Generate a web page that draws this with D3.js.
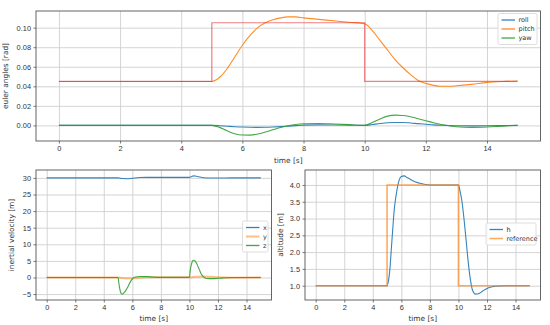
<!DOCTYPE html>
<html>
<head>
<meta charset="utf-8">
<script src="https://cdn.jsdelivr.net/npm/d3@7"></script>
<style>
  body { margin: 0; background: #fff; }
  svg { display: block; font-family: "DejaVu Sans", sans-serif; }
  .axis text { font-size: 7.4px; fill: #333; }
  .axis path { display: none; }
  .axis line { stroke: #555; stroke-width: 0.8; }
  .grid line { stroke: #cfcfcf; stroke-width: 0.9; }
  .grid path { display: none; }
  .axis-title { font-size: 7.4px; fill: #333; }
  .legend text { font-size: 6.5px; fill: #333; }
</style>
</head>
<body>
<script>
// euler angles
var tEuler = [0, 5, 5.25, 5.5, 5.75, 6, 6.25, 6.5, 6.75, 7, 7.25, 7.5, 7.75, 8, 8.5, 9, 9.5, 10,
  10.25, 10.5, 10.75, 11, 11.25, 11.5, 11.75, 12, 12.25, 12.5, 12.75, 13, 13.5, 14, 14.5, 15];
var roll = [0, 0, -0.0003, -0.0008, -0.0013, -0.0017, -0.0019, -0.002, -0.0019, -0.0016, -0.0012, -0.0007, -0.0002,
  0.0003, 0.0006, 0.0005, 0.0003, 0, 0.0009, 0.0019, 0.0027, 0.003, 0.003, 0.0025, 0.0018, 0.0012, 0.0006, 0.0002,
  -0.0001, -0.0004, -0.0005, -0.0004, -0.0002, 0];
var pitch = [0.045, 0.045, 0.049, 0.058, 0.070, 0.082, 0.092, 0.100, 0.105, 0.108, 0.110, 0.111, 0.111, 0.110,
  0.1085, 0.107, 0.1055, 0.104, 0.097, 0.087, 0.077, 0.067, 0.059, 0.052, 0.046, 0.043, 0.041, 0.040, 0.040,
  0.0405, 0.042, 0.044, 0.045, 0.0455];
var yaw = [0, 0, -0.002, -0.0055, -0.0085, -0.0098, -0.0099, -0.0088, -0.0068, -0.0045, -0.0022, -0.0003, 0.001,
  0.0017, 0.002, 0.0015, 0.0008, 0, 0.003, 0.0065, 0.0095, 0.0105, 0.0102, 0.0088, 0.0068, 0.0048, 0.0028, 0.001,
  -0.0004, -0.0013, -0.002, -0.0016, -0.0008, 0];
var tRef = [0, 5, 10, 15];
var pitchRef = [0.045, 0.105, 0.045, 0.045];

// inertial velocity
var tVelX = [0, 5, 5.3, 5.6, 6, 6.5, 7, 8, 9, 10, 10.15, 10.3, 10.5, 10.75, 11, 11.5, 12, 13, 15];
var velX = [30, 30, 29.8, 29.75, 29.9, 30.1, 30.15, 30.15, 30.15, 30.15, 30.45, 30.6, 30.5, 30.25, 30.05, 29.95, 29.95, 30, 30];
var tVelY = [0, 5, 5.5, 6, 6.5, 7, 8, 10, 10.5, 11, 11.5, 12, 13, 15];
var velY = [0, 0, -0.25, -0.3, -0.1, 0.05, 0.05, 0.05, 0.2, 0.3, 0.25, 0.1, -0.05, 0];
var tVelZ = [0, 5, 5.05, 5.1, 5.2, 5.27, 5.35, 5.5, 5.7, 5.85, 6, 6.2, 6.5, 7, 7.5, 8, 10, 10.05, 10.15, 10.28,
  10.4, 10.55, 10.7, 10.85, 11, 11.2, 11.6, 12, 12.5, 13, 15];
var velZ = [0, 0, -1.5, -3.0, -4.7, -5.0, -4.9, -4.2, -2.7, -1.4, -0.4, 0.15, 0.3, 0.25, 0.12, 0.05, 0.05, 2.0, 4.2, 5.2,
  4.9, 3.8, 2.3, 0.9, 0.1, -0.3, -0.35, -0.25, -0.1, 0, 0];

// altitude
var tAlt = [0, 5, 5.1, 5.2, 5.3, 5.4, 5.5, 5.6, 5.7, 5.85, 6, 6.2, 6.4, 6.7, 7, 7.3, 7.6, 8, 10, 10.1,
  10.25, 10.4, 10.55, 10.7, 10.85, 11, 11.2, 11.4, 11.7, 12, 12.4, 12.8, 13.5, 15];
var alt = [1, 1, 1.15, 1.5, 2.1, 2.7, 3.25, 3.6, 3.87, 4.15, 4.25, 4.27, 4.22, 4.15, 4.09, 4.05, 4.02, 4.0, 4.0, 3.85,
  3.5, 2.95, 2.3, 1.65, 1.15, 0.85, 0.75, 0.76, 0.84, 0.92, 0.97, 0.99, 1.0, 1.0];
var altRef = [1, 4, 1, 1];

var timeTicks = [0, 2, 4, 6, 8, 10, 12, 14];
var eulerTicks = [0, 0.02, 0.04, 0.06, 0.08, 0.10];
var velTicks = [-5, 0, 5, 10, 15, 20, 25, 30];
var altTicks = [1.0, 1.5, 2.0, 2.5, 3.0, 3.5, 4.0];

var svg = d3.select("body").append("svg")
  .attr("width", 550)
  .attr("height", 325);

function zip(t, v) { return t.map(function(d, i) { return [d, v[i]]; }); }

var clipId = 0;

function panel(box, yTicks, yFmt, series, legend, labels) {
  var width = box.right - box.left,
      height = box.bottom - box.top;

  var all = [];
  series.forEach(function(s) { all = all.concat(s.v); });
  var ext = d3.extent(all), pad = (ext[1] - ext[0]) * 0.05;

  var x = d3.scaleLinear().domain([-0.75, 15.75]).range([0, width]);
  var y = d3.scaleLinear().domain([ext[0] - pad, ext[1] + pad]).range([height, 0]);

  var g = svg.append("g").attr("transform", "translate(" + box.left + "," + box.top + ")");

  g.append("g").attr("class", "grid")
    .attr("transform", "translate(0," + height + ")")
    .call(d3.axisBottom(x).tickValues(timeTicks).tickSize(-height).tickFormat(""));
  g.append("g").attr("class", "grid")
    .call(d3.axisLeft(y).tickValues(yTicks).tickSize(-width).tickFormat(""));

  clipId += 1;
  g.append("clipPath").attr("id", "clip" + clipId)
    .append("rect").attr("width", width).attr("height", height);

  var plot = g.append("g").attr("clip-path", "url(#clip" + clipId + ")");
  series.forEach(function(s) {
    var line = d3.line()
      .x(function(d) { return x(d[0]); })
      .y(function(d) { return y(d[1]); })
      .curve(s.step ? d3.curveStepAfter : d3.curveMonotoneX);
    plot.append("path")
      .datum(zip(s.t, s.v))
      .attr("d", line)
      .style("fill", "none")
      .style("stroke", s.color)
      .style("stroke-opacity", s.opacity || 0.9)
      .style("stroke-width", s.width || 1.1);
  });

  g.append("rect")
    .attr("width", width).attr("height", height)
    .attr("fill", "none").attr("stroke", "#555").attr("stroke-width", 0.9);

  g.append("g").attr("class", "axis")
    .attr("transform", "translate(0," + height + ")")
    .call(d3.axisBottom(x).tickValues(timeTicks).tickSize(2.5).tickPadding(2.5).tickFormat(d3.format("d")));
  g.append("g").attr("class", "axis")
    .call(d3.axisLeft(y).tickValues(yTicks).tickSize(2.5).tickPadding(2.5).tickFormat(function(d) {
      return yFmt(d).replace("-", "\u2212");
    }));

  g.append("text").attr("class", "axis-title")
    .attr("text-anchor", "middle")
    .attr("x", width / 2)
    .attr("y", height + labels.xdy)
    .text("time [s]");
  g.append("text").attr("class", "axis-title")
    .attr("text-anchor", "middle")
    .attr("transform", "translate(" + labels.ydx + "," + (height / 2) + ") rotate(-90)")
    .text(labels.y);

  // legend
  var items = series.filter(function(s) { return s.name; });
  var lg = g.append("g").attr("class", "legend")
    .attr("transform", "translate(" + (legend.x - box.left) + "," + (legend.y - box.top) + ")");
  lg.append("rect")
    .attr("width", legend.w).attr("height", items.length * 9 + 4)
    .attr("rx", 1.5)
    .attr("fill", "#fff").attr("fill-opacity", 0.85)
    .attr("stroke", "#d5d5d5").attr("stroke-width", 0.8);
  items.forEach(function(s, i) {
    var cy = 6.5 + i * 9;
    lg.append("line")
      .attr("x1", 3.5).attr("x2", 17)
      .attr("y1", cy).attr("y2", cy)
      .style("stroke", s.color)
      .style("stroke-opacity", s.opacity || 0.9)
      .style("stroke-width", s.width || 1.3);
    lg.append("text").attr("x", 20.5).attr("y", cy + 2.3).text(s.name);
  });
}

panel({left: 36, top: 11, right: 540.5, bottom: 141}, eulerTicks, d3.format(".2f"), [
  {t: tEuler, v: roll, color: "#1f77b4", name: "roll"},
  {t: tEuler, v: pitch, color: "#ff7f0e", name: "pitch"},
  {t: tEuler, v: yaw, color: "#2ca02c", name: "yaw"},
  {t: tRef, v: pitchRef, color: "#e8282b", opacity: 0.6, width: 1.2, step: true}
], {x: 498, y: 13.5, w: 39}, {y: "euler angles [rad]", xdy: 21.5, ydx: -28});

panel({left: 36, top: 170, right: 271.5, bottom: 300}, velTicks, d3.format("d"), [
  {t: tVelX, v: velX, color: "#1f77b4", name: "x"},
  {t: tVelY, v: velY, color: "#ff7f0e", opacity: 0.5, width: 2, name: "y"},
  {t: tVelZ, v: velZ, color: "#2ca02c", name: "z"}
], {x: 242.5, y: 221, w: 25.5}, {y: "inertial velocity [m]", xdy: 21, ydx: -22});

panel({left: 305, top: 170, right: 540.5, bottom: 300}, altTicks, d3.format(".1f"), [
  {t: tAlt, v: alt, color: "#1f77b4", name: "h"},
  {t: tRef, v: altRef, color: "#ff7f0e", opacity: 0.65, width: 1.6, step: true, name: "reference"}
], {x: 486, y: 223, w: 50}, {y: "altitude [m]", xdy: 21, ydx: -22});
</script>
</body>
</html>
